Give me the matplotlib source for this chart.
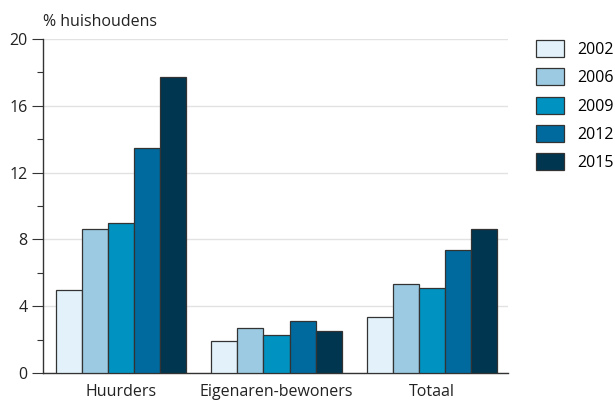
import numpy as np
import matplotlib
matplotlib.use("Agg")
import matplotlib.pyplot as plt
from matplotlib.ticker import MultipleLocator

# --------------------------------------------------------------
# Data
# --------------------------------------------------------------
categories = ["Huurders", "Eigenaren-bewoners", "Totaal"]
years = ["2002", "2006", "2009", "2012", "2015"]
values = {
    "2002": [5.0, 1.9, 3.35],
    "2006": [8.65, 2.7, 5.35],
    "2009": [9.0, 2.3, 5.1],
    "2012": [13.5, 3.1, 7.35],
    "2015": [17.7, 2.5, 8.65],
}
colors = ["#e3f2fa", "#9ccae2", "#0092c0", "#006a9e", "#00364f"]

# --------------------------------------------------------------
# Plot
# --------------------------------------------------------------
plt.rcParams["font.family"] = ["Open Sans", "DejaVu Sans"]

fig = plt.figure(figsize=(6.15, 4.08), dpi=100)
ax = fig.add_axes([43 / 615, 35 / 408, 465 / 615, 334 / 408])

x = np.arange(len(categories))
width = 0.168
for i, year in enumerate(years):
    ax.bar(x + (i - 2) * width, values[year], width, color=colors[i],
           edgecolor="#333333", linewidth=0.9, label=year, zorder=3)

ax.set_xlim(-0.503, 2.49)
ax.set_ylim(0, 20)
ax.yaxis.set_major_locator(MultipleLocator(4))
ax.yaxis.set_minor_locator(MultipleLocator(2))
ax.grid(axis="y", color="#e2e2e2", linewidth=1, zorder=0)

ax.set_xticks(x)
ax.set_xticklabels(categories)
ax.tick_params(axis="x", length=0, pad=8, labelsize=11.5, colors="#222222")
ax.tick_params(axis="y", which="major", length=8, width=0.8, color="#333333",
               labelsize=11.5, labelcolor="#222222", pad=3)
ax.tick_params(axis="y", which="minor", length=4.5, width=0.8, color="#333333")

for side in ["top", "right"]:
    ax.spines[side].set_visible(False)
for side in ["left", "bottom"]:
    ax.spines[side].set_color("#333333")
    ax.spines[side].set_linewidth(1)

fig.text(43 / 615, 1 - 22 / 408, "% huishoudens", fontsize=11.5,
         color="#222222", va="center", ha="left")

ax.legend(loc="upper left", bbox_to_anchor=(536 / 615, 1 - 40 / 408),
          bbox_transform=fig.transFigure, frameon=False, fontsize=11.5,
          handlelength=1.75, handleheight=1.25, labelspacing=0.66,
          handletextpad=0.85, borderpad=0, borderaxespad=0)

plt.savefig("out.png", dpi=100)
